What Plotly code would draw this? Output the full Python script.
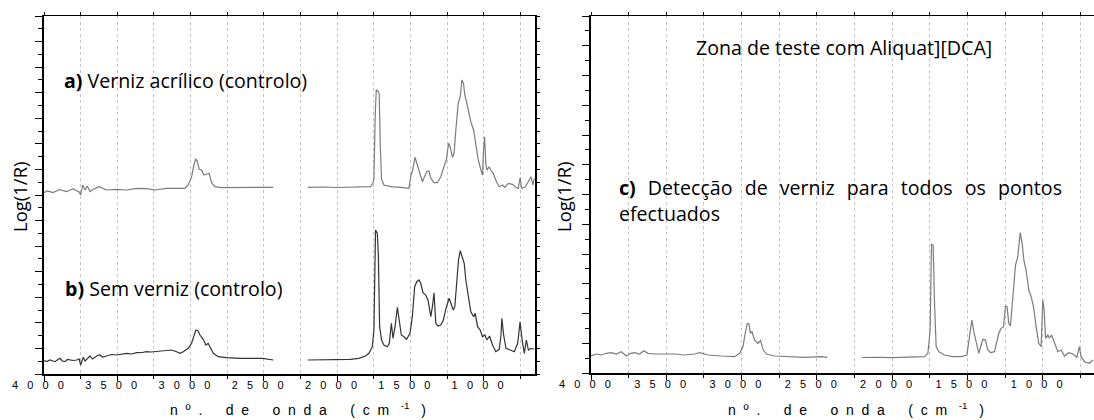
import plotly.graph_objects as go

# ---------------- data (Log(1/R), arbitrary units) ----------------
# a) Verniz acrílico (controlo) - left panel, upper trace
wn_a1 = [4000, 3980, 3959, 3940, 3914, 3895, 3868, 3845, 3823, 3800, 3777, 3760, 3750, 3736, 3720,
         3705, 3686, 3664, 3623, 3573, 3505, 3436, 3368, 3300, 3243, 3164, 3095, 3039, 3016, 2993,
         2977, 2966, 2955, 2941, 2925, 2909, 2891, 2873, 2857, 2834, 2789, 2664, 2550, 2436]
ab_a1 = [181.3, 183.0, 182.3, 181.5, 183.0, 184.5, 183.3, 182.5, 184.0, 185.0, 183.3, 182.0, 179.0, 189.0, 184.0,
         188.0, 182.3, 184.7, 187.3, 184.0, 184.7, 184.0, 185.7, 185.3, 184.0, 185.7, 185.7, 185.7, 189.0, 197.3,
         209.0, 214.7, 213.3, 204.7, 204.0, 199.0, 199.7, 200.7, 191.3, 187.3, 186.3, 186.3, 186.7, 186.7]
wn_a2 = [2200, 2100, 2000, 1900, 1800, 1772, 1756, 1749, 1740, 1733, 1722, 1713, 1706, 1697, 1681,
         1635, 1567, 1510, 1498, 1485, 1469, 1453, 1437, 1418, 1402, 1389, 1373, 1361, 1339, 1316,
         1293, 1270, 1254, 1240, 1229, 1213, 1202, 1190, 1174, 1160, 1149, 1138, 1129, 1110, 1088,
         1069, 1053, 1037, 1019, 1008, 1001, 994, 985, 977, 963, 952, 934, 918, 895, 872,
         856, 833, 804, 781, 765, 751, 742, 719, 696, 678, 664, 655]
ab_a2 = [186.7, 187.0, 186.5, 187.0, 187.3, 187.3, 190.7, 195.0, 260.0, 284.0, 283.0, 280.0, 230.0, 195.0, 189.0,
         187.3, 186.7, 185.7, 197.3, 204.0, 216.7, 209.0, 200.7, 192.3, 198.0, 202.3, 203.0, 195.7, 191.3, 191.3,
         197.3, 209.0, 214.7, 230.7, 227.3, 216.7, 220.7, 244.0, 270.7, 277.3, 294.0, 290.7, 279.0, 267.3, 252.3,
         244.0, 227.3, 214.0, 204.0, 199.0, 224.0, 237.3, 209.0, 204.0, 207.3, 204.0, 200.7, 194.0, 187.3, 189.0,
         186.7, 190.7, 189.7, 186.7, 185.7, 196.7, 185.7, 186.7, 192.3, 197.3, 189.0, 195.7]

# b) Sem verniz (controlo) - left panel, lower trace
wn_b1 = [4000, 3980, 3959, 3940, 3925, 3905, 3891, 3875, 3857, 3840, 3823, 3800, 3777, 3760, 3750,
         3740, 3732, 3720, 3709, 3698, 3686, 3670, 3652, 3635, 3618, 3600, 3573, 3540, 3505, 3470,
         3436, 3400, 3368, 3330, 3300, 3270, 3243, 3210, 3186, 3160, 3130, 3095, 3073, 3050, 3016,
         2993, 2977, 2964, 2950, 2936, 2914, 2895, 2880, 2864, 2845, 2811, 2755, 2664, 2573, 2509, 2436]
ab_b1 = [13.3, 12.5, 14.0, 13.0, 12.3, 14.5, 15.7, 13.0, 12.3, 14.5, 14.0, 13.5, 14.0, 15.0, 9.0,
         15.0, 16.7, 13.0, 14.7, 17.0, 18.0, 15.0, 16.7, 18.5, 19.0, 17.0, 18.0, 19.5, 19.0, 20.0,
         20.7, 20.0, 21.3, 21.5, 22.3, 22.0, 22.3, 23.0, 23.3, 23.0, 24.0, 22.3, 20.7, 22.3, 25.7,
         30.7, 37.3, 44.0, 43.3, 39.0, 34.7, 29.0, 30.7, 25.7, 20.7, 17.3, 16.3, 15.7, 15.3, 15.7, 14.0]
wn_b2 = [2200, 2023, 1909, 1852, 1806, 1783, 1760, 1749, 1738, 1726, 1719, 1710, 1697, 1681, 1658,
         1644, 1630, 1619, 1605, 1589, 1576, 1562, 1544, 1526, 1503, 1487, 1471, 1457, 1441, 1430,
         1414, 1396, 1380, 1361, 1350, 1339, 1327, 1311, 1293, 1275, 1259, 1236, 1224, 1208, 1197,
         1183, 1172, 1160, 1145, 1133, 1122, 1106, 1088, 1069, 1058, 1042, 1024, 1008, 992, 978,
         960, 940, 917, 894, 882, 876, 864, 848, 825, 791, 768, 752, 738, 723, 709, 695, 677, 655]
ab_b2 = [14.0, 14.7, 14.7, 15.7, 18.0, 20.7, 27.3, 44.0, 144.0, 140.7, 120.7, 47.3, 34.0, 29.0, 27.3,
         30.7, 50.7, 35.7, 47.3, 66.7, 54.0, 39.0, 37.3, 34.7, 40.7, 57.3, 87.3, 92.3, 94.0, 90.7,
         81.3, 79.0, 74.0, 57.3, 67.3, 81.3, 50.7, 48.0, 49.0, 54.0, 64.7, 75.7, 70.7, 64.0, 67.3,
         90.7, 114.0, 123.3, 117.3, 110.7, 94.0, 80.7, 62.3, 57.3, 60.7, 47.3, 44.0, 37.3, 39.0, 34.0,
         38.0, 29.0, 22.3, 24.7, 39.0, 55.7, 39.0, 25.7, 24.0, 22.3, 30.7, 52.3, 34.0, 20.7, 34.0, 24.0, 25.7, 24.7]

# c) Detecção de verniz - right panel
wn_c1 = [4000, 3965, 3931, 3898, 3865, 3832, 3799, 3765, 3737, 3710, 3677, 3648, 3622, 3577, 3511,
         3445, 3378, 3312, 3279, 3223, 3135, 3046, 3013, 2991, 2976, 2962, 2951, 2942, 2931, 2914,
         2892, 2874, 2858, 2836, 2781, 2692, 2582, 2471, 2431]
ab_c1 = [17.0, 19.0, 18.0, 19.7, 20.3, 19.0, 21.3, 17.0, 19.7, 20.3, 19.0, 22.3, 19.7, 19.0, 19.0,
         19.0, 18.0, 19.0, 20.3, 18.0, 17.0, 16.3, 19.7, 26.3, 39.7, 49.7, 49.0, 39.7, 41.3, 33.0,
         29.7, 32.3, 23.7, 19.0, 17.0, 16.3, 15.7, 16.3, 15.7]
wn_c2 = [2200, 2150, 2084, 2000, 1863, 1785, 1763, 1748, 1739, 1728, 1719, 1708, 1690, 1653, 1597,
         1542, 1504, 1487, 1471, 1458, 1442, 1425, 1409, 1398, 1381, 1365, 1347, 1321, 1292, 1277,
         1261, 1248, 1237, 1226, 1215, 1199, 1181, 1166, 1150, 1137, 1126, 1111, 1093, 1077, 1062,
         1044, 1027, 1011, 1000, 991, 982, 967, 956, 942, 923, 900, 878, 856, 827, 800,
         774, 757, 746, 723, 690, 668]
ab_c2 = [15.5, 15.8, 15.7, 15.3, 15.7, 16.3, 19.7, 43.0, 129.0, 128.0, 69.7, 26.3, 21.3, 18.0, 16.3,
         16.3, 18.0, 36.3, 53.0, 41.3, 31.3, 19.7, 28.0, 33.7, 33.0, 23.0, 20.3, 21.3, 39.7, 44.7,
         46.3, 67.0, 66.3, 49.7, 47.0, 76.3, 108.0, 116.3, 140.3, 129.7, 113.0, 103.0, 83.0, 76.3, 66.3,
         46.3, 29.7, 26.3, 73.0, 63.0, 34.7, 38.0, 34.7, 38.0, 29.7, 21.3, 23.0, 17.0, 20.3, 19.0,
         15.7, 26.3, 16.3, 11.3, 9.7, 13.0]

major_ticks = [4000, 3500, 3000, 2500, 2000, 1500, 1000]

# ---------------- helpers ----------------
NB = "\u00a0"


def spaced(s, gap=1, word_gap=4):
    words = s.split(" ")
    return (NB * word_gap).join((NB * gap).join(list(w)) for w in words)


tick_text = [spaced(str(v), 3) + NB * 4 for v in major_ticks]
xtitle = (spaced("nº. de onda (cm", 2, 6) + NB * 3 + "<sup>-1</sup>" + NB * 3 + ")")

W, H = 1094, 420
L1, R1 = 44, 535
L2, R2 = 591, 1094
TOP, BOT1, BOT2 = 16, 374, 373

gap_x = lambda a, b: a + [None] + b

fig = go.Figure()
fig.add_trace(go.Scatter(x=gap_x(wn_a1, wn_a2), y=gap_x(ab_a1, ab_a2), mode="lines",
                         line=dict(color="#7c7c7c", width=1.2), xaxis="x", yaxis="y",
                         connectgaps=False, showlegend=False, hoverinfo="skip"))
fig.add_trace(go.Scatter(x=gap_x(wn_b1, wn_b2), y=gap_x(ab_b1, ab_b2), mode="lines",
                         line=dict(color="#333333", width=1.2), xaxis="x", yaxis="y",
                         connectgaps=False, showlegend=False, hoverinfo="skip"))
fig.add_trace(go.Scatter(x=gap_x(wn_c1, wn_c2), y=gap_x(ab_c1, ab_c2), mode="lines",
                         line=dict(color="#7c7c7c", width=1.2), xaxis="x2", yaxis="y2",
                         connectgaps=False, showlegend=False, hoverinfo="skip"))

grid = dict(showgrid=True, gridcolor="#c4c4c4", griddash="dot", gridwidth=1)


def bottom_axis(dom, rng):
    return dict(domain=dom, range=rng, tickmode="array", tickvals=major_ticks, ticktext=tick_text,
                ticks="outside", ticklen=5, tickwidth=1.3, tickcolor="black", automargin=False,
                ticklabelstandoff=-5,
                tickfont=dict(family="Liberation Sans, Arial", size=11, color="black"),
                showline=True, linecolor="black", linewidth=1.5, zeroline=False,
                minor=dict(tickmode="linear", tick0=0, dtick=250, ticks="outside", ticklen=3,
                           tickcolor="black", showgrid=True, gridcolor="#c4c4c4", griddash="dot"),
                **grid)


def top_axis(over, rng):
    return dict(overlaying=over, side="top", range=rng, tickmode="linear", tick0=0, dtick=250,
                ticks="outside", ticklen=3, tickcolor="black", showticklabels=False, automargin=False,
                showline=True, linecolor="black", linewidth=1.2, showgrid=False, zeroline=False)


rng1 = [4000, 650]
rng2 = [4000, 660]
yr1 = [0, 358]
yr2 = [0, 357]

fig.update_layout(
    width=W, height=H, margin=dict(l=0, r=0, t=0, b=0, autoexpand=False),
    paper_bgcolor="white", plot_bgcolor="white",
    xaxis=dict(anchor="y", **bottom_axis([L1 / W, R1 / W], rng1)),
    xaxis2=dict(anchor="y2", **bottom_axis([L2 / W, R2 / W], rng2)),
    xaxis3=dict(anchor="y", **top_axis("x", rng1)),
    xaxis4=dict(anchor="y2", **top_axis("x2", rng2)),
    yaxis=dict(domain=[1 - BOT1 / H, 1 - TOP / H], range=yr1, anchor="x", automargin=False,
               tickmode="linear", tick0=0, dtick=yr1[1] / 14, ticks="outside", ticklen=7,
               tickcolor="black", showticklabels=False, showline=True, linecolor="black",
               linewidth=2, showgrid=False, zeroline=False,
               minor=dict(tickmode="linear", tick0=0, dtick=yr1[1] / 28, ticks="outside",
                          ticklen=4, tickcolor="black")),
    yaxis3=dict(overlaying="y", side="right", anchor="x", range=yr1, tickmode="linear", tick0=0,
                dtick=yr1[1] / 28, ticks="outside", ticklen=3, tickcolor="black", automargin=False,
                showticklabels=False, showline=True, linecolor="black", linewidth=2,
                showgrid=False, zeroline=False),
    yaxis2=dict(domain=[1 - BOT2 / H, 1 - TOP / H], range=yr2, anchor="x2", automargin=False,
                tickmode="linear", tick0=0, dtick=yr2[1] / 12, ticks="outside", ticklen=7,
                tickcolor="black", showticklabels=False, showline=True, linecolor="black",
                linewidth=2, showgrid=False, zeroline=False,
                minor=dict(tickmode="linear", tick0=0, dtick=yr2[1] / 24, ticks="outside",
                           ticklen=4, tickcolor="black")),
)

# dummy traces so overlaying axes are drawn
fig.add_trace(go.Scatter(x=[None], y=[None], xaxis="x3", yaxis="y3", showlegend=False))
fig.add_trace(go.Scatter(x=[None], y=[None], xaxis="x4", yaxis="y2", showlegend=False))

LAB = "Open Sans"
txt = dict(family=LAB, size=19.6, color="black")


def ann(text, px, py, xanchor="left", angle=0, font=txt):
    fig.add_annotation(text=text, x=px / W, y=1 - py / H, xref="paper", yref="paper",
                       xanchor=xanchor, yanchor="middle", showarrow=False, textangle=angle,
                       font=font)


ann("<b>a)</b> Verniz acrílico (controlo)", 62, 80)
ann("<b>b)</b> Sem verniz (controlo)", 63, 288)
ann("Zona de teste com Aliquat][DCA]", 844, 47, xanchor="center")
jgap = NB * 2 + "\u200a"
ann("<b>c)</b>" + jgap + jgap.join(["Detecção", "de", "verniz", "para", "todos", "os", "pontos"]),
    617, 188)
ann("efectuados", 617, 213)
ylab_font = dict(family=LAB, size=18.5, color="black")
ann("Log(1/R)", 19, 197, xanchor="center", angle=-90, font=ylab_font)
ann("Log(1/R)", 563, 197, xanchor="center", angle=-90, font=ylab_font)
xt_font = dict(family="Liberation Sans, Arial", size=14, color="black")
ann(xtitle, 298, 409, xanchor="center", font=xt_font)
ann(xtitle, 856, 409, xanchor="center", font=xt_font)

fig.write_html("out.html", config={"displayModeBar": False},
               post_script="document.body.style.margin='0';document.body.style.padding='0';"
                           "document.body.style.overflow='hidden';")
